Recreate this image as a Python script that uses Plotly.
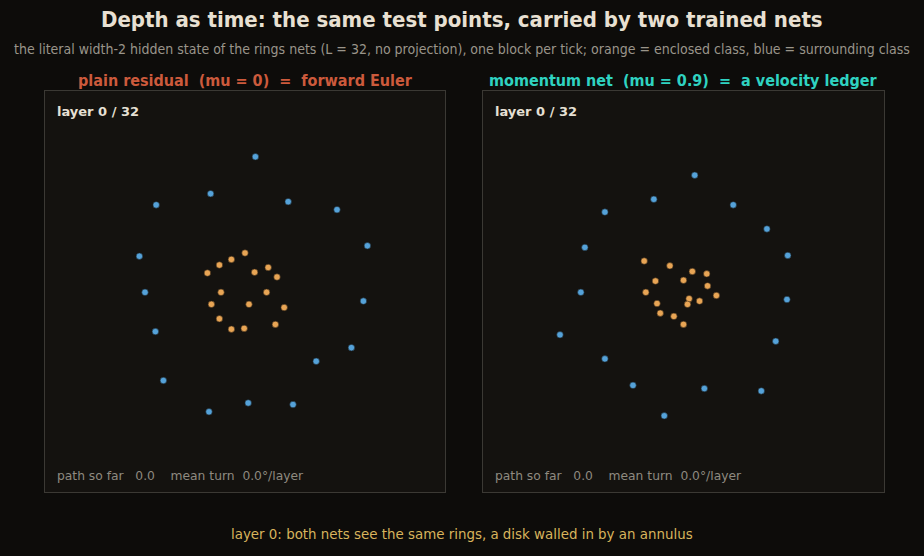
import plotly.graph_objects as go

# ---- data (hidden state at layer 0), width-2 coordinates ----
left_orange_x = [0.00, -0.17, -0.32, -0.47, 0.12, 0.29, 0.40, -0.30, 0.27, -0.42, 0.05, 0.49, -0.32, 0.38, -0.17, -0.01]
left_orange_y = [0.48, 0.40, 0.33, 0.23, 0.24, 0.30, 0.18, -0.01, -0.01, -0.16, -0.16, -0.20, -0.34, -0.41, -0.47, -0.46]
left_blue_x = [0.13, -0.43, -1.11, 0.54, 1.15, 1.53, -1.32, -1.25, 1.48, -1.12, 1.33, 0.89, -1.02, 0.04, 0.60, -0.45]
left_blue_y = [1.68, 1.22, 1.08, 1.12, 1.02, 0.57, 0.44, -0.01, -0.12, -0.50, -0.70, -0.87, -1.11, -1.39, -1.41, -1.50]

right_orange_x = [-0.49, -0.17, 0.11, 0.29, -0.35, 0.00, 0.30, -0.47, 0.41, 0.07, 0.20, -0.33, 0.05, -0.29, -0.12, 0.00]
right_orange_y = [0.38, 0.32, 0.25, 0.22, 0.13, 0.14, 0.07, -0.01, -0.05, -0.09, -0.12, -0.15, -0.16, -0.27, -0.31, -0.41]
right_blue_x = [0.14, -0.37, -0.98, 0.62, 1.04, -1.23, 1.30, -1.28, 1.29, -1.54, 1.15, -0.98, -0.63, 0.26, 0.97, -0.24]
right_blue_y = [1.45, 1.15, 0.99, 1.08, 0.78, 0.55, 0.45, -0.01, -0.10, -0.54, -0.62, -0.84, -1.17, -1.21, -1.24, -1.55]

panel_titles = ["plain residual  (mu = 0)  =  forward Euler",
                "momentum net  (mu = 0.9)  =  a velocity ledger"]
layer, n_layers = 0, 32
path_so_far = [0.0, 0.0]
mean_turn = [0.0, 0.0]

ORANGE = "#e8a555"
BLUE = "#55a2d9"
BG = "#0d0c0a"
PANEL_BG = "#14120f"
BORDER = "#3b3934"

W, H = 924, 556
domains_x = [(45 / W, 445 / W), (483 / W, 884 / W)]
dom_y = ((556 - 492) / H, (556 - 91) / H)

fig = go.Figure()

panels = [
    (left_orange_x, left_orange_y, left_blue_x, left_blue_y),
    (right_orange_x, right_orange_y, right_blue_x, right_blue_y),
]

for i, (ox, oy, bx, by) in enumerate(panels):
    xa = "x" if i == 0 else "x2"
    ya = "y" if i == 0 else "y2"
    fig.add_trace(go.Scatter(x=bx, y=by, mode="markers", xaxis=xa, yaxis=ya,
                             marker=dict(size=6.5, color=BLUE, line=dict(width=0.6, color="#1d2a33")),
                             showlegend=False, hoverinfo="skip"))
    fig.add_trace(go.Scatter(x=ox, y=oy, mode="markers", xaxis=xa, yaxis=ya,
                             marker=dict(size=6.5, color=ORANGE, line=dict(width=0.6, color="#3a2a18")),
                             showlegend=False, hoverinfo="skip"))

axis_common = dict(range=[-2.5, 2.5], showgrid=False, zeroline=False, showticklabels=False,
                   ticks="", showline=True, linecolor=BORDER, linewidth=1, mirror=True, fixedrange=True)

fig.update_layout(
    width=W, height=H,
    margin=dict(l=0, r=0, t=0, b=0),
    paper_bgcolor=BG, plot_bgcolor=PANEL_BG,
    xaxis=dict(domain=domains_x[0], **axis_common),
    yaxis=dict(domain=dom_y, **axis_common),
    xaxis2=dict(domain=domains_x[1], anchor="y2", **axis_common),
    yaxis2=dict(domain=dom_y, anchor="x2", **axis_common),
    showlegend=False,
)

ann = []
ann.append(dict(text="<b>Depth as time: the same test points, carried by two trained nets</b>",
                x=0.5, y=1 - 19 / H, xref="paper", yref="paper", showarrow=False,
                xanchor="center", yanchor="middle",
                font=dict(family="DejaVu Sans Condensed", size=22, color="#e8e0d2")))
ann.append(dict(text="the literal width-2 hidden state of the rings nets (L = 32, no projection), one block per tick; "
                     "orange = enclosed class, blue = surrounding class",
                x=0.5, y=1 - 49 / H, xref="paper", yref="paper", showarrow=False,
                xanchor="center", yanchor="middle",
                font=dict(family="DejaVu Sans Condensed", size=14, color="#9a958a")))
title_colors = ["#cc5a3c", "#2fd3c1"]
for i in range(2):
    cx = (domains_x[i][0] + domains_x[i][1]) / 2
    ann.append(dict(text="<b>" + panel_titles[i].replace("  ", "\u00a0\u00a0") + "</b>",
                    x=cx, y=1 - 81 / H, xref="paper", yref="paper", showarrow=False,
                    xanchor="center", yanchor="middle",
                    font=dict(family="DejaVu Sans Condensed", size=16, color=title_colors[i])))
    x0 = domains_x[i][0] + 10 / W
    ann.append(dict(text=f"<b>layer {layer} / {n_layers}</b>",
                    x=x0, y=1 - 112 / H, xref="paper", yref="paper", showarrow=False,
                    xanchor="left", yanchor="middle",
                    font=dict(family="DejaVu Sans", size=13, color="#e6e0d4")))
    ann.append(dict(text=f"path so far\u00a0\u00a0\u00a0{path_so_far[i]:.1f}\u00a0\u00a0\u00a0\u00a0mean turn\u00a0\u00a0{mean_turn[i]:.1f}°/layer",
                    x=x0, y=1 - 476 / H, xref="paper", yref="paper", showarrow=False,
                    xanchor="left", yanchor="middle",
                    font=dict(family="DejaVu Sans", size=12.3, color="#8f8a80")))
ann.append(dict(text=f"layer {layer}: both nets see the same rings, a disk walled in by an annulus",
                x=0.5, y=1 - 534 / H, xref="paper", yref="paper", showarrow=False,
                xanchor="center", yanchor="middle",
                font=dict(family="DejaVu Sans", size=13.4, color="#d8b45c")))
fig.update_layout(annotations=ann)

fig.write_html("out.html", config={"displayModeBar": False})
